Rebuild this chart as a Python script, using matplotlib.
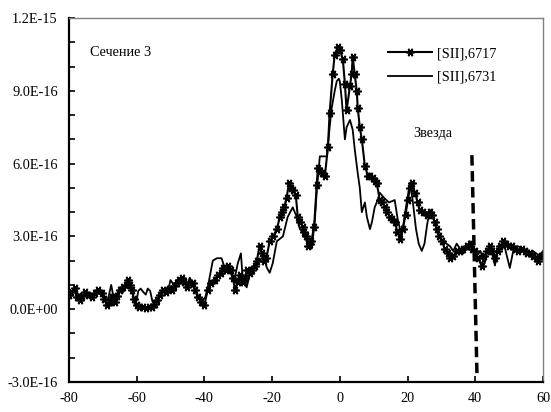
import numpy as np
import matplotlib
matplotlib.use('Agg')
import matplotlib.pyplot as plt
from matplotlib.ticker import FixedLocator, FuncFormatter

plt.rcParams['font.family'] = ['Liberation Serif', 'DejaVu Serif']
plt.rcParams['axes.unicode_minus'] = False

# ------------------------------------------------------------------
# Data (flux in units of 1e-16)
# ------------------------------------------------------------------
x6717 = [-80, -79.3, -78.3, -77.5, -76.8, -76, -75.3, -74.3, -73.3, -72.4,
         -71.5, -70.3, -69.5, -68.8, -68, -67.4, -66.5, -65.8, -65, -64,
         -63.2, -62.6, -62, -61.4, -60.7, -60, -59.2, -58.2, -57.3, -56.4,
         -55.5, -54.7, -54, -53.2, -52.3, -51.4, -50.5, -49.6, -48.9, -48.2,
         -47.4, -46.7, -46, -45.2, -44.3, -43.4, -42.7, -42, -41, -40,
         -39, -38, -37, -36, -35.2, -34.5, -33.7, -33, -32.2, -31.5,
         -31, -30.2, -29.5, -28.7, -28, -27.3, -26.5, -25.8, -25, -24.5,
         -23.7, -23, -22.5, -21.7, -20.7, -19.7, -18.6, -17.7, -17, -16.4,
         -15.7, -15, -14.4, -13.9, -13, -12.4, -11.7, -11, -10.5, -10,
         -9.3, -8.8, -8.4, -7.6, -6.8, -6.5, -5.9, -5.4, -4.4, -3.5,
         -3, -2.1, -1.5, -0.6, 0, 0.9, 1.5, 2, 3, 3.5,
         3.8, 4.4, 5, 5.3, 5.9, 6.5, 7.4, 8.3, 8.9, 9.8,
         10.3, 10.9, 11.8, 12.5, 13.3, 14, 14.8, 15.5, 16.2, 17,
         17.7, 18.6, 19.4, 20.1, 20.7, 21.3, 22.2, 23, 23.6, 24.6,
         25.7, 26.5, 27.2, 28, 28.7, 29.4, 30.1, 31, 31.8, 32.5,
         33.5, 34.6, 35.5, 36.5, 37.5, 38.4, 39.1, 39.9, 40.8, 41.9,
         42.7, 43.5, 44.3, 45, 45.8, 46.6, 47.4, 48.2, 49, 49.9,
         50.8, 51.7, 52.6, 53.8, 54.7, 55.4, 56.1, 57, 57.8, 58.5,
         59.3, 60]
y6717 = [0.57, 0.7, 0.86, 0.5, 0.37, 0.55, 0.7, 0.6, 0.5, 0.65,
         0.78, 0.65, 0.4, 0.16, 0.3, 0.5, 0.3, 0.55, 0.78, 0.9,
         1.0, 1.2, 1.0, 0.78, 0.4, 0.16, 0.08, 0.08, 0.05, 0.08,
         0.08, 0.2, 0.37, 0.6, 0.78, 0.7, 0.85, 0.78, 0.95, 1.07,
         1.2, 1.3, 1.1, 0.9, 1.07, 1.07, 0.8, 0.5, 0.3, 0.16,
         0.8, 1.07, 1.2, 1.4, 1.5, 1.7, 1.6, 1.8, 1.6, 1.3,
         0.8, 1.1, 1.4, 1.1, 1.3, 1.6, 1.5, 1.6, 1.8, 2.0,
         2.6, 2.3, 2.0, 2.1, 2.8, 3.0, 3.3, 3.8, 4.0, 4.2,
         4.6, 5.2, 5.0, 4.9, 4.7, 3.8, 3.6, 3.4, 3.2, 3.0,
         2.6, 2.7, 2.8, 3.4, 5.1, 5.8, 5.7, 5.6, 5.5, 6.7,
         8.1, 9.7, 10.5, 10.8, 10.7, 10.3, 9.3, 8.2, 9.2, 9.7,
         10.4, 9.7, 9.0, 8.3, 7.5, 7.0, 5.9, 5.5, 5.5, 5.4,
         5.3, 5.2, 4.5, 4.4, 4.2, 4.0, 3.8, 3.7, 3.6, 3.2,
         2.9, 3.3, 3.9, 4.5, 5.0, 5.2, 4.8, 4.4, 4.1, 4.0,
         3.9, 4.0, 3.9, 3.6, 3.3, 3.0, 2.8, 2.5, 2.3, 2.1,
         2.2, 2.4, 2.4, 2.5, 2.6, 2.7, 2.5, 2.4, 2.1, 1.8,
         2.2, 2.4, 2.6, 2.4, 2.1, 2.4, 2.6, 2.8, 2.7, 2.6,
         2.6, 2.5, 2.4, 2.5, 2.4, 2.3, 2.3, 2.2, 2.1, 2.0,
         2.2, 2.2]

x6731 = [-80, -79, -78, -77, -76, -75, -74, -73, -72, -71,
         -70, -69, -68.3, -67.5, -66.7, -66, -65, -64, -63, -62,
         -61.3, -60.5, -60, -59.5, -58.8, -58, -57.3, -56.7, -56, -55.3,
         -54.5, -53.5, -52.5, -51.5, -50.5, -50, -49, -48, -47, -46,
         -45, -44.3, -43.3, -42.3, -41.5, -40.5, -39.7, -39, -38.2, -37.5,
         -36.3, -34.9, -34, -33.2, -32.5, -31.7, -31, -30.1, -29.2, -28.7,
         -27.5, -26.8, -26, -24.5, -23, -22.2, -21.5, -20.7, -19.8, -18.6,
         -16.8, -15.4, -13.9, -12.7, -11.8, -10.3, -9.5, -8.3, -7.4, -6.8,
         -5.9, -3.8, -3, -2.4, -1.5, -0.9, -0.3, 0, 0.6, 1.5,
         2, 3, 3.8, 4.4, 5.3, 5.9, 6.5, 7.4, 8, 8.9,
         9.5, 10.3, 11.2, 11.8, 13, 14.5, 16.2, 17.1, 18.3, 19.3,
         20.7, 21.5, 22.5, 23.3, 24.2, 25, 25.8, 26.6, 27.5, 29,
         30.5, 32.5, 33.5, 34.5, 35.5, 36.5, 38.4, 39.5, 40.5, 41.5,
         42.8, 43.8, 44.8, 45.8, 46.8, 47.8, 48.8, 50.2, 51.2, 52.5,
         54, 55.5, 57, 58, 59, 60]
y6731 = [0.5, 0.75, 0.8, 0.55, 0.5, 0.7, 0.55, 0.6, 0.7, 0.8,
         0.6, 0.3, 0.5, 1.0, 0.4, 0.6, 0.8, 0.7, 1.0, 1.1,
         0.7, 0.2, 0.35, 0.75, 0.85, 0.7, 0.6, 0.85, 0.75, 0.3,
         0.2, 0.5, 0.75, 0.85, 0.9, 1.2, 1.0, 1.2, 1.3, 1.2,
         1.0, 1.3, 1.0, 0.66, 0.5, 0.37, 0.5, 0.9, 1.5, 2.0,
         2.1, 2.1, 1.7, 1.6, 1.5, 1.4, 1.3, 1.9, 2.3, 1.3,
         0.9, 1.3, 1.7, 1.9, 2.1, 2.0, 1.7, 1.5, 1.9, 2.8,
         3.0, 3.8, 4.2, 3.8, 3.3, 3.1, 2.6, 2.5, 3.6, 4.9,
         6.3, 6.3, 7.5, 8.3, 9.0, 9.4, 9.5, 9.4, 8.6, 7.0,
         7.5, 7.8, 7.4, 6.6, 5.6, 5.0, 4.0, 4.4, 3.8, 3.3,
         3.6, 4.2, 4.5, 4.8, 4.6, 4.4, 4.5, 3.7, 3.0, 4.0,
         5.2, 4.5, 3.3, 2.7, 2.4, 2.7, 3.5, 4.1, 3.8, 3.1,
         2.8, 2.6, 2.4, 2.7, 2.5, 2.3, 2.8, 2.5, 2.2, 2.4,
         1.9, 2.5, 2.4, 1.8, 2.5, 2.6, 2.5, 1.7, 2.4, 2.6,
         2.5, 2.3, 2.4, 2.3, 2.2, 2.4]

# star position marker (slightly slanted dashed line)
star_x = [39.0, 40.5]
star_y = [6.35, -2.7]

# axis ticks
x_ticks = [-80, -60, -40, -20, 0, 20, 40, 60]
y_ticks = [-3e-16, 0.0, 3e-16, 6e-16, 9e-16, 1.2e-15]
y_minor = [-2e-16, -1e-16, 1e-16, 2e-16, 4e-16, 5e-16, 7e-16, 8e-16,
           1e-15, 1.1e-15]

scale = 1e-16
fs = 10.3

# ------------------------------------------------------------------
# Plot
# ------------------------------------------------------------------
fig = plt.figure(figsize=(5.51, 4.12), dpi=100)
ax = fig.add_axes([0.125, 0.073, 0.8605, 0.883])

star_marker = (6, 2, 90)
ax.plot(x6717, np.array(y6717) * scale, color='black', lw=1.5,
        marker=star_marker, markersize=6, markeredgewidth=1.2,
        label='[SII],6717')
ax.plot(x6731, np.array(y6731) * scale, color='black', lw=1.3,
        label='[SII],6731')
ax.plot(star_x, np.array(star_y) * scale, color='black', lw=2.5,
        linestyle=(0, (3, 1.6)))

ax.set_xlim(-80, 60)
ax.set_ylim(-3e-16, 1.2e-15)
ax.xaxis.set_major_locator(FixedLocator(x_ticks))
ax.yaxis.set_major_locator(FixedLocator(y_ticks))
ax.yaxis.set_minor_locator(FixedLocator(y_minor))
ax.yaxis.set_major_formatter(FuncFormatter(lambda v, p: '%.1E' % v))

ax.tick_params(axis='both', which='both', direction='in', length=4,
               width=1.2, labelsize=fs, color='black')
ax.tick_params(axis='x', pad=7)
ax.tick_params(axis='y', pad=8)

for side in ['left', 'bottom']:
    ax.spines[side].set_linewidth(1.6)
    ax.spines[side].set_color('black')
for side in ['top', 'right']:
    ax.spines[side].set_linewidth(1.0)
    ax.spines[side].set_color('#808080')

ax.text(0.044, 0.905, 'Сечение 3', transform=ax.transAxes, fontsize=fs,
        ha='left', va='center')
ax.text(0.768, 0.684, 'Звезда', transform=ax.transAxes, fontsize=fs,
        ha='center', va='center')

ax.legend(loc='upper left', bbox_to_anchor=(0.673, 0.92), frameon=False,
          fontsize=fs, handlelength=3.1, handletextpad=0.35,
          labelspacing=0.72, borderaxespad=0, borderpad=0)

fig.savefig('out.png', dpi=100)
plt.close()
